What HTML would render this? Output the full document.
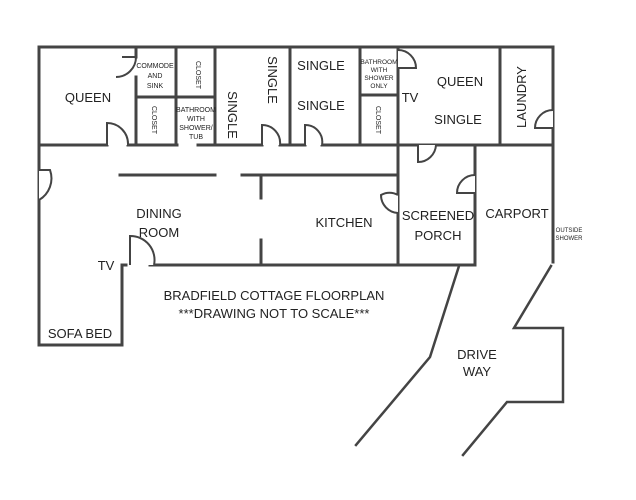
<!DOCTYPE html>
<html><head><style>body{margin:0;background:#fff}svg{display:block}text{font-family:"Liberation Sans",Arial,sans-serif;fill:#222}</style></head><body>
<svg width="636" height="500" viewBox="0 0 636 500">
<g stroke="#444" stroke-width="3" fill="none" stroke-linecap="square">
<!-- outer top -->
<path d="M39 47 H553 V262"/>
<path d="M39 47 V345 H122 V265 H126"/>
<path d="M150 265 H475 V145"/>
<!-- hall top -->
<path d="M39 145 H107 M128 145 H177 M198 145 H262 M280 145 H305 M322 145 H553"/>
<!-- top verticals -->
<path d="M136 47 V57 M136 77 V145 M176 47 V145 M215 47 V145 M290 47 V145 M360 47 V145 M398 47 V145 M500 47 V145"/>
<path d="M136 97 H215 M360 95 H398"/>
<!-- hall bottom -->
<path d="M120 175 H215 M242 175 H398"/>
<path d="M261 177 V198 M261 240 V265"/>
<path d="M398 145 V265"/>
<path d="M475 145 V165"/>
<!-- drive -->
<path d="M459 266 L430 357 L356 445" stroke-width="2.5"/>
<path d="M551 266 L514 328 H563 V402 H507 L463 455" stroke-width="2.5"/>
</g>
<g stroke="#444" stroke-width="2" fill="#fff">
<!-- doors -->
<path d="M136 57 A20 20 0 0 1 116 77 V77"/><path d="M136 57 H122"/>
<path d="M107 145 V123 A21 21 0 0 1 128 145"/>
<path d="M262 145 V125 A18 18 0 0 1 280 145"/>
<path d="M305 145 V125 A17 17 0 0 1 322 145"/>
<path d="M398 50 A18 18 0 0 1 416 68 H398"/>
<path d="M418 145 V162 A18 18 0 0 0 436 145"/>
<path d="M475 175 A18 18 0 0 0 457 193 H475"/>
<path d="M398 195 A17 17 0 0 0 381 195 A18 18 0 0 0 398 213"/>
<path d="M553 110 A18 18 0 0 0 535 128 H553"/>
<path d="M39 170 H50 A25 25 0 0 1 39 200"/>
<path d="M130 265 V236 A24 24 0 0 1 154 265"/>
</g>
<g font-size="13" text-anchor="middle">
<text x="88" y="102">QUEEN</text>
<text x="155" y="68" font-size="7">COMMODE</text><text x="155" y="78" font-size="7">AND</text><text x="155" y="88" font-size="7">SINK</text>
<text x="196" y="75" font-size="7" transform="rotate(90 196 75)">CLOSET</text>
<text x="152" y="120" font-size="7" transform="rotate(90 152 120)">CLOSET</text>
<text x="196" y="112" font-size="7">BATHROOM</text><text x="196" y="121" font-size="7">WITH</text><text x="196" y="130" font-size="7">SHOWER/</text><text x="196" y="139" font-size="7">TUB</text>
<text x="228" y="115" transform="rotate(90 228 115)">SINGLE</text>
<text x="268" y="80" transform="rotate(90 268 80)">SINGLE</text>
<text x="321" y="70">SINGLE</text>
<text x="321" y="110">SINGLE</text>
<text x="379" y="64" font-size="6.5">BATHROOM</text><text x="379" y="72" font-size="6.5">WITH</text><text x="379" y="80" font-size="6.5">SHOWER</text><text x="379" y="88" font-size="6.5">ONLY</text>
<text x="376" y="120" font-size="7" transform="rotate(90 376 120)">CLOSET</text>
<text x="410" y="102">TV</text>
<text x="460" y="86">QUEEN</text>
<text x="458" y="124">SINGLE</text>
<text x="526" y="97" transform="rotate(-90 526 97)">LAUNDRY</text>
<text x="159" y="218">DINING</text><text x="159" y="237">ROOM</text>
<text x="344" y="227">KITCHEN</text>
<text x="438" y="220">SCREENED</text><text x="438" y="240">PORCH</text>
<text x="517" y="218">CARPORT</text>
<text x="569" y="232" font-size="6">OUTSIDE</text><text x="569" y="240" font-size="6">SHOWER</text>
<text x="106" y="270">TV</text>
<text x="274" y="300">BRADFIELD COTTAGE FLOORPLAN</text>
<text x="274" y="318">***DRAWING NOT TO SCALE***</text>
<text x="80" y="338">SOFA BED</text>
<text x="477" y="359">DRIVE</text><text x="477" y="376">WAY</text>
</g>
</svg>
</body></html>
